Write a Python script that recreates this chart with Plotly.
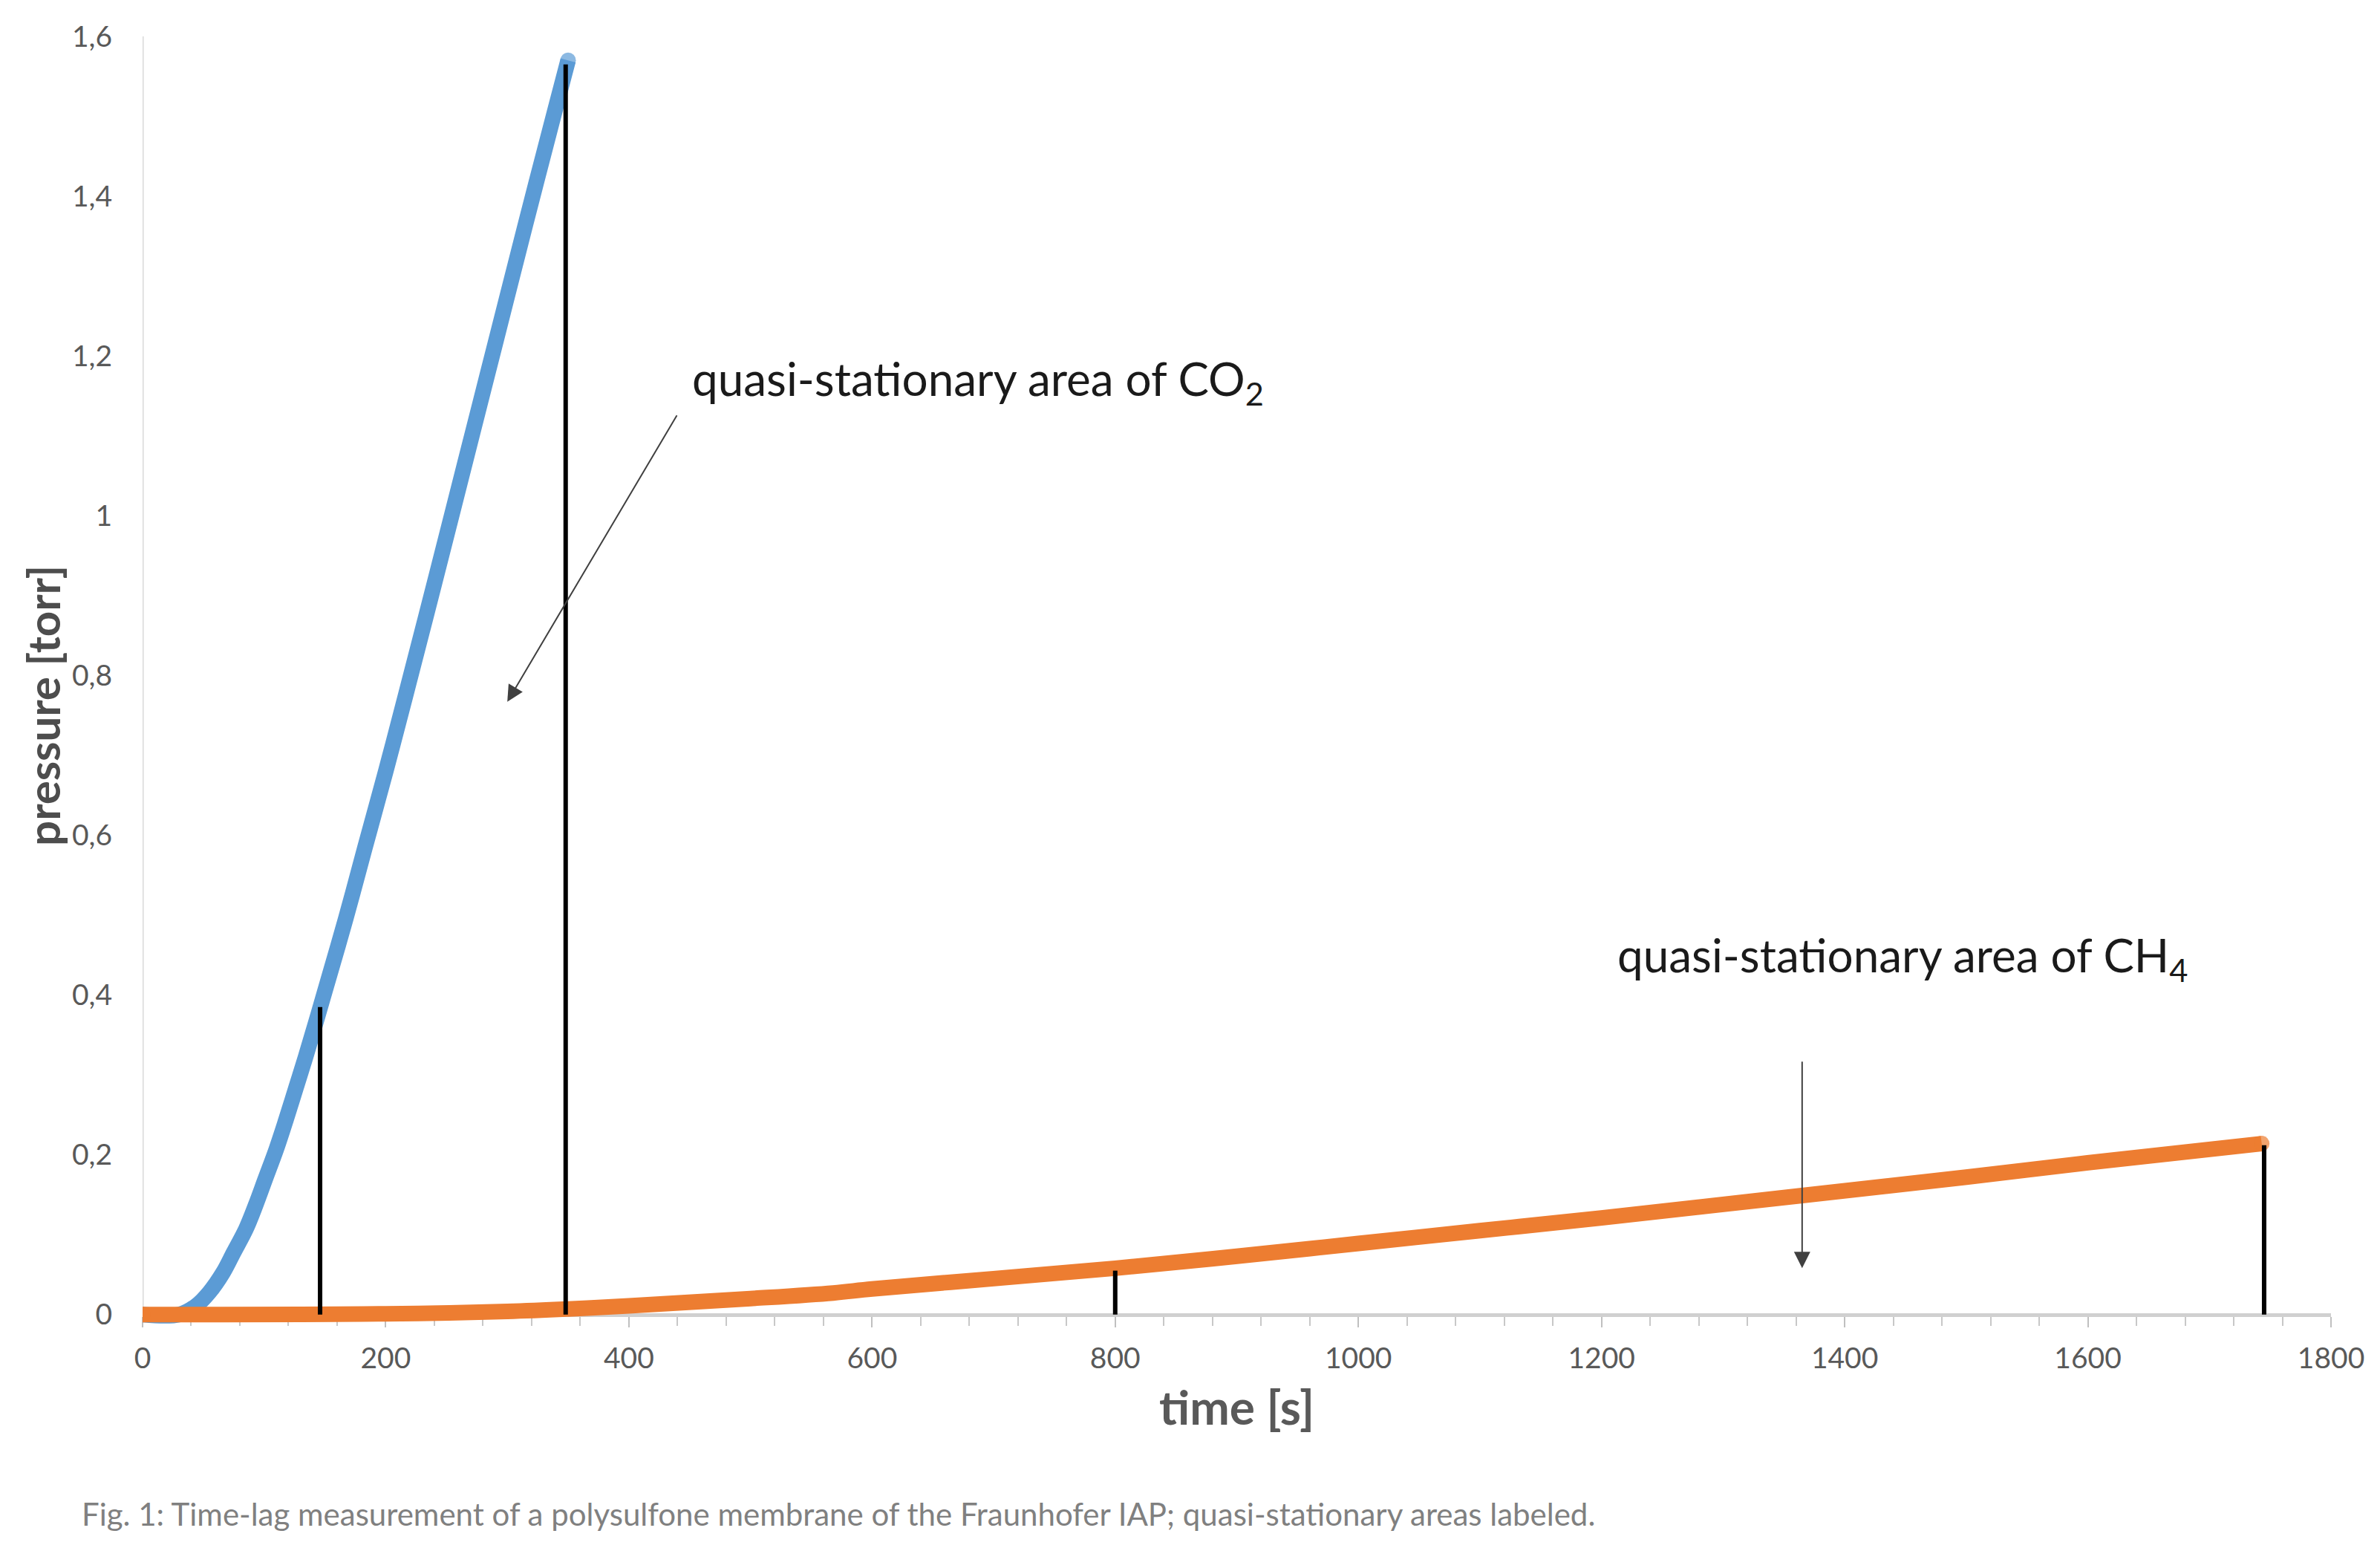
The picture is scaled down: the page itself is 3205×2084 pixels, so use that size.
import plotly.graph_objects as go

# ---------------- data ----------------
t_co2 = [0, 30, 44, 55, 66, 75, 85, 93, 101, 110, 118, 126, 134, 142, 150,
         167, 183, 200, 216, 240, 265, 290, 315, 340, 350]
p_co2 = [0, 0, 0.011, 0.028, 0.052, 0.078, 0.107, 0.137, 0.17, 0.207, 0.244,
         0.283, 0.322, 0.363, 0.405, 0.495, 0.585, 0.68, 0.773, 0.915, 1.065,
         1.215, 1.365, 1.512, 1.57]

t_ch4 = [0, 200, 300, 350, 400, 500, 568, 600, 700, 800, 900, 1000, 1100,
         1200, 1365, 1500, 1600, 1743]
p_ch4 = [0, 0.001, 0.004, 0.007, 0.011, 0.02, 0.027, 0.032, 0.045, 0.058,
         0.073, 0.089, 0.105, 0.121, 0.149, 0.172, 0.19, 0.214]

# vertical markers delimiting the quasi-stationary areas
marker_t = [146, 348, 800, 1745]
marker_top = [0.385, 1.565, 0.055, 0.212]

x_ticks = [0, 200, 400, 600, 800, 1000, 1200, 1400, 1600, 1800]
x_ticklabels = ["0", "200", "400", "600", "800", "1000", "1200", "1400", "1600", "1800"]
y_ticks = [0, 0.2, 0.4, 0.6, 0.8, 1.0, 1.2, 1.4, 1.6]
y_ticklabels = ["0", "0,2", "0,4", "0,6", "0,8", "1", "1,2", "1,4", "1,6"]

# annotation anchor values
co2_arrow_head = (300, 0.767)
co2_arrow_tail = (440, 1.127)
ch4_arrow_head = (1365, 0.058)
ch4_arrow_tail = (1365, 0.318)
co2_label_pos = (451, 1.168)
ch4_label_pos = (1212, 0.4465)

# ---------------- styling ----------------
FONT = "Lato"
BLUE = "#5B9BD5"
ORANGE = "#ED7D31"
LW = 21
Y_LOW = -0.03
Y_HIGH = 1.6


def end_sizes(n, first=True):
    return [LW if (i == n - 1 or (first and i == 0)) else 0 for i in range(n)]


fig = go.Figure()

fig.add_trace(go.Scatter(
    x=t_co2, y=p_co2, mode="lines+markers",
    line=dict(color=BLUE, width=LW, shape="spline", smoothing=1.0),
    marker=dict(color=BLUE, size=end_sizes(len(t_co2), first=False), line=dict(width=0)),
    hoverinfo="skip", showlegend=False))

fig.add_trace(go.Scatter(
    x=t_ch4, y=p_ch4, mode="lines+markers",
    line=dict(color=ORANGE, width=LW, shape="spline", smoothing=1.0),
    marker=dict(color=ORANGE, size=end_sizes(len(t_ch4)), line=dict(width=0)),
    hoverinfo="skip", showlegend=False))

for tm, top in zip(marker_t, marker_top):
    fig.add_trace(go.Scatter(
        x=[tm, tm], y=[0, top], mode="lines",
        line=dict(color="#000000", width=6),
        hoverinfo="skip", showlegend=False))

# y-axis line from 0 to top
fig.add_shape(type="line", xref="x", yref="y",
              x0=x_ticks[0], x1=x_ticks[0], y0=y_ticks[0], y1=y_ticks[-1],
              line=dict(color="#D9D9D9", width=3), layer="below")

annotations = [
    dict(x=co2_arrow_head[0], y=co2_arrow_head[1], ax=co2_arrow_tail[0], ay=co2_arrow_tail[1],
         xref="x", yref="y", axref="x", ayref="y", text="", showarrow=True,
         arrowhead=2, arrowsize=2.2, arrowwidth=2, arrowcolor="#404040"),
    dict(x=ch4_arrow_head[0], y=ch4_arrow_head[1], ax=ch4_arrow_tail[0], ay=ch4_arrow_tail[1],
         xref="x", yref="y", axref="x", ayref="y", text="", showarrow=True,
         arrowhead=2, arrowsize=2.2, arrowwidth=2, arrowcolor="#404040"),
    dict(x=co2_label_pos[0], y=co2_label_pos[1], xref="x", yref="y",
         text="quasi-stationary area of CO<sub>2</sub>", showarrow=False,
         xanchor="left", yanchor="middle",
         font=dict(family=FONT, size=62, color="#1a1a1a")),
    dict(x=ch4_label_pos[0], y=ch4_label_pos[1], xref="x", yref="y",
         text="quasi-stationary area of CH<sub>4</sub>", showarrow=False,
         xanchor="left", yanchor="middle",
         font=dict(family=FONT, size=62, color="#1a1a1a")),
    dict(x=0.5, y=-0.052, xref="paper", yref="paper", text="<b>time [s]</b>",
         showarrow=False, xanchor="center", yanchor="middle",
         font=dict(family=FONT, size=64, color="#595959")),
    dict(x=-0.0455, y=0.486, xref="paper", yref="paper", text="<b>pressure [torr]</b>",
         showarrow=False, xanchor="center", yanchor="middle", textangle=-90,
         font=dict(family=FONT, size=60, color="#4d4d4d")),
    dict(x=-0.0285, y=-0.1346, xref="paper", yref="paper",
         text="Fig. 1: Time-lag measurement of a polysulfone membrane of the Fraunhofer IAP; quasi-stationary areas labeled.",
         showarrow=False, xanchor="left", yanchor="middle",
         font=dict(family=FONT, size=42, color="#808080")),
]

fig.update_layout(
    width=3205, height=2084,
    margin=dict(l=184, r=74, t=41, b=290),
    paper_bgcolor="white", plot_bgcolor="white",
    annotations=annotations,
    xaxis=dict(
        range=[x_ticks[0], x_ticks[-1]], anchor="free",
        position=(0 - Y_LOW) / (Y_HIGH - Y_LOW),
        showgrid=False, zeroline=False,
        showline=True, linecolor="#D0D0D0", linewidth=5, layer="below traces",
        tickmode="array", tickvals=x_ticks, ticktext=x_ticklabels,
        ticks="outside", ticklen=14, tickwidth=2, tickcolor="#C0C0C0",
        minor=dict(dtick=40, tick0=0, ticks="outside", ticklen=12, tickwidth=2,
                   tickcolor="#C8C8C8", showgrid=False),
        tickfont=dict(family=FONT, size=39, color="#595959"),
        ticklabelstandoff=8,
    ),
    yaxis=dict(
        range=[Y_LOW, Y_HIGH], showgrid=False, zeroline=False, showline=False,
        tickmode="array", tickvals=y_ticks, ticktext=y_ticklabels,
        ticks="", tickfont=dict(family=FONT, size=39, color="#595959"),
        ticklabelstandoff=40,
    ),
)

fig.write_html("out.html")
